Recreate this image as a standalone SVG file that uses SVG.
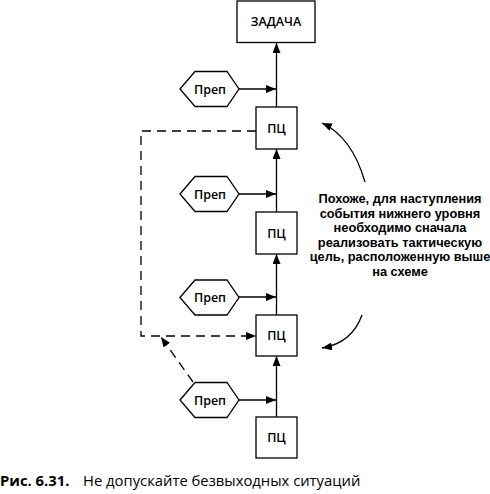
<svg xmlns="http://www.w3.org/2000/svg" width="490" height="494" viewBox="0 0 490 494">
<defs>
<style>
.box{fill:#fff;stroke:#000;stroke-width:1.3}
.ln{fill:none;stroke:#000;stroke-width:1.3}
.dash{fill:none;stroke:#000;stroke-width:1.3;stroke-dasharray:9 6}
.t{font-family:"Open Sans","Noto Sans","DejaVu Sans",sans-serif;font-size:12.5px;font-weight:600;fill:#000;text-anchor:middle}
.note{font-family:"Liberation Sans",Arial,sans-serif;font-size:12.8px;font-weight:bold;fill:#000;text-anchor:middle}
.cap{font-family:"Open Sans","Noto Sans","DejaVu Sans",sans-serif;font-size:14.8px;fill:#000}
</style>
<marker id="ah" viewBox="0 0 10 8" refX="10" refY="4" markerWidth="10" markerHeight="8" markerUnits="userSpaceOnUse" orient="auto">
<path d="M0,0 L10,4 L0,8 Z" fill="#000"/>
</marker>
</defs>
<g id="connectors">
<line class="ln" x1="276.5" y1="107" x2="276.5" y2="43" marker-end="url(#ah)"/>
<line class="ln" x1="276.5" y1="212" x2="276.5" y2="149" marker-end="url(#ah)"/>
<line class="ln" x1="276.5" y1="315" x2="276.5" y2="254" marker-end="url(#ah)"/>
<line class="ln" x1="276.5" y1="417" x2="276.5" y2="356" marker-end="url(#ah)"/>
<line class="ln" x1="239" y1="89" x2="276" y2="89" marker-end="url(#ah)"/>
<line class="ln" x1="239" y1="194" x2="276" y2="194" marker-end="url(#ah)"/>
<line class="ln" x1="239" y1="297" x2="276" y2="297" marker-end="url(#ah)"/>
<line class="ln" x1="239" y1="400" x2="276" y2="400" marker-end="url(#ah)"/>
<path class="dash" d="M256,131 H141 V336 H256" marker-end="url(#ah)"/>
<line class="dash" x1="193" y1="382" x2="161" y2="337" marker-end="url(#ah)"/>
<path class="ln" d="M365,182 Q352,137 322,123" marker-end="url(#ah)"/>
<path class="ln" d="M362,315 Q352,343 322,348" marker-end="url(#ah)"/>
</g>
<g id="task">
<rect class="box" x="237" y="1" width="78" height="41.5"/>
<text class="t" x="276" y="26">ЗАДАЧА</text>
</g>
<g id="prep1">
<polygon class="box" points="180,89 195,71.5 227,71.5 239,89 227,106.5 195,106.5"/>
<text class="t" x="210" y="93.5">Преп</text>
</g>
<g id="pc1">
<rect class="box" x="256" y="107" width="41" height="42"/>
<text class="t" x="276.5" y="132.5">ПЦ</text>
</g>
<g id="prep2">
<polygon class="box" points="180,194 195,176.5 227,176.5 239,194 227,211.5 195,211.5"/>
<text class="t" x="210" y="198.5">Преп</text>
</g>
<g id="pc2">
<rect class="box" x="256" y="212" width="41" height="42"/>
<text class="t" x="276.5" y="237.5">ПЦ</text>
</g>
<g id="prep3">
<polygon class="box" points="180,297.5 195,280 227,280 239,297.5 227,315 195,315"/>
<text class="t" x="210" y="302">Преп</text>
</g>
<g id="pc3">
<rect class="box" x="256" y="315" width="41" height="41"/>
<text class="t" x="276.5" y="340">ПЦ</text>
</g>
<g id="prep4">
<polygon class="box" points="180,400 195,382.5 227,382.5 239,400 227,417.5 195,417.5"/>
<text class="t" x="210" y="404.5">Преп</text>
</g>
<g id="pc4">
<rect class="box" x="256" y="417" width="41" height="41"/>
<text class="t" x="276.5" y="442">ПЦ</text>
</g>
<g id="note">
<text class="note" x="400" y="203.3">Похоже, для наступления</text>
<text class="note" x="400" y="217.8">события нижнего уровня</text>
<text class="note" x="400" y="232.3">необходимо сначала</text>
<text class="note" x="400" y="246.8">реализовать тактическую</text>
<text class="note" x="400" y="261.3">цель, расположенную выше</text>
<text class="note" x="400" y="275.8">на схеме</text>
</g>
<g id="caption">
<text class="cap" x="0" y="486"><tspan font-weight="bold">Рис. 6.31.</tspan><tspan x="83">Не допускайте безвыходных ситуаций</tspan></text>
</g>
</svg>
